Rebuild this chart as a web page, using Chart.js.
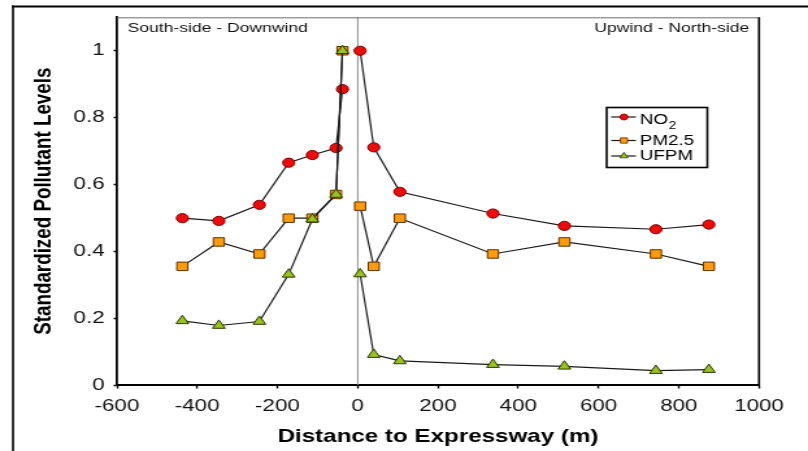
<!DOCTYPE html>
<html>
<head>
<meta charset="utf-8">
<script src="https://cdn.jsdelivr.net/npm/chart.js@4.4.1/dist/chart.umd.min.js"></script>
<style>
  html, body { margin: 0; padding: 0; background: #fff; }
</style>
</head>
<body>
<canvas id="c" width="622" height="451" style="display:block;width:808px;height:451px"></canvas>
<script>
// ---- data ----
const distances = [-437, -346, -245, -172, -113, -54, -38, 6, 40, 105, 337, 515, 743, 875];
const no2  = [0.499, 0.491, 0.539, 0.665, 0.688, 0.709, 0.885, 1.000, 0.711, 0.578, 0.513, 0.476, 0.466, 0.480];
const pm25 = [0.355, 0.428, 0.392, 0.499, 0.499, 0.570, 1.000, 0.535, 0.355, 0.499, 0.392, 0.428, 0.392, 0.355];
const ufpm = [0.192, 0.178, 0.190, 0.331, 0.496, 0.570, 1.000, 0.332, 0.091, 0.072, 0.061, 0.056, 0.043, 0.046];
const seriesNames = ['NO2', 'PM2.5', 'UFPM'];
const xTicks = [-600, -400, -200, 0, 200, 400, 600, 800, 1000];
const yTicks = [0, 0.2, 0.4, 0.6, 0.8, 1];
const sideLabels = ['South-side - Downwind', 'Upwind - North-side'];
const xTitle = 'Distance to Expressway (m)';
const yTitle = 'Standardized Pollutant Levels';

const FONT = "'Liberation Sans', Arial, Helvetica, sans-serif";
const LINE = '#1a1a1a';
const styles = [
  { fill: '#f00a0a', edge: '#7a0000', shape: 'circle', r: 4.6, lr: 3 },
  { fill: '#ff9a0a', edge: '#5a3300', shape: 'rect', r: 6.0, lr: 3.8 },
  { fill: '#99c41a', edge: '#2e3a00', shape: 'triangle', r: 5.6, lr: 3.6 }
];

function points(vals) { return distances.map((d, i) => ({ x: d, y: vals[i] })); }
// break the line where the expressway is crossed
const gapSegment = {
  borderColor: ctx => (ctx.p0.parsed.x < 0 && ctx.p1.parsed.x > 0) ? 'rgba(0,0,0,0)' : undefined
};

function ds(label, vals, st, order) {
  return {
    label, data: points(vals), showLine: true, order,
    borderColor: LINE, borderWidth: 1.2,
    pointStyle: st.shape, pointRadius: st.r, pointHoverRadius: st.r,
    pointBackgroundColor: st.fill, pointBorderColor: st.edge, pointBorderWidth: 1,
    segment: gapSegment
  };
}

const overlay = {
  id: 'overlay',
  beforeDatasetsDraw(chart) {
    const { ctx, chartArea: a, scales: { x } } = chart;
    const px = x.getPixelForValue(0);
    ctx.save();
    ctx.strokeStyle = '#8c8c8c';
    ctx.lineWidth = 1;
    ctx.beginPath(); ctx.moveTo(px, a.top); ctx.lineTo(px, a.bottom); ctx.stroke();
    ctx.restore();
  },
  afterDraw(chart) {
    const { ctx, chartArea: a, width: W, height: H } = chart;
    ctx.save();
    // outer frame (top & left)
    ctx.strokeStyle = '#000';
    ctx.lineWidth = 2;
    ctx.beginPath(); ctx.moveTo(9.2, 6.5); ctx.lineTo(W, 6.5); ctx.stroke();
    ctx.lineWidth = 1.6;
    ctx.beginPath(); ctx.moveTo(10, 5.5); ctx.lineTo(10, H); ctx.stroke();
    // plot box top & right
    ctx.strokeStyle = '#6e6e6e'; ctx.lineWidth = 1;
    ctx.beginPath(); ctx.moveTo(a.left, a.top + 0.5); ctx.lineTo(a.right, a.top + 0.5); ctx.stroke();
    ctx.strokeStyle = '#000'; ctx.lineWidth = 1.6;
    ctx.beginPath(); ctx.moveTo(a.right, a.top); ctx.lineTo(a.right, a.bottom + 1); ctx.stroke();
    // side annotations
    ctx.fillStyle = '#111';
    ctx.font = `13.5px ${FONT}`;
    ctx.textBaseline = 'middle';
    ctx.textAlign = 'left';
    ctx.fillText(sideLabels[0], a.left + 8.2, 28.5);
    ctx.textAlign = 'right';
    ctx.fillText(sideLabels[1], a.right - 7.5, 28.5);
    // legend
    const bx = 467, by = 107.5, bw = 77.5, bh = 60;
    ctx.fillStyle = '#fff';
    ctx.fillRect(bx, by, bw, bh);
    ctx.strokeStyle = '#000'; ctx.lineWidth = 1.6;
    ctx.strokeRect(bx, by, bw, bh);
    const rows = [117, 140.5, 156];
    const textRows = [119.5, 140.5, 156];
    chart.data.datasets.forEach((d, i) => {
      const st = styles[i];
      const y = rows[i];
      ctx.strokeStyle = LINE; ctx.lineWidth = 1.2;
      ctx.beginPath(); ctx.moveTo(bx + 3.5, y); ctx.lineTo(bx + 22.5, y); ctx.stroke();
      ctx.fillStyle = st.fill; ctx.strokeStyle = st.edge; ctx.lineWidth = 0.8;
      Chart.helpers.drawPoint(ctx, { pointStyle: st.shape, radius: st.lr, rotation: 0, borderWidth: 0.8 }, bx + 13.3, y);
      ctx.fillStyle = '#000';
      ctx.textAlign = 'left';
      ctx.textBaseline = 'middle';
      ctx.font = `14.5px ${FONT}`;
      const tx = bx + 25.5;
      if (d.label === 'NO2') {
        ctx.fillText('NO', tx, textRows[i]);
        const w = ctx.measureText('NO').width;
        ctx.font = `10.5px ${FONT}`;
        ctx.fillText('2', tx + w + 0.5, textRows[i] + 6.5);
      } else {
        ctx.fillText(d.label, tx, textRows[i]);
      }
    });
    ctx.restore();
  }
};

new Chart(document.getElementById('c'), {
  type: 'scatter',
  data: {
    datasets: [
      ds(seriesNames[0], no2, styles[0], 3),
      ds(seriesNames[1], pm25, styles[1], 2),
      ds(seriesNames[2], ufpm, styles[2], 1)
    ]
  },
  options: {
    responsive: false,
    animation: false,
    events: [],
    layout: { padding: { left: 10, top: 15, right: 37.7, bottom: 0 } },
    plugins: { legend: { display: false }, tooltip: { enabled: false } },
    scales: {
      x: {
        type: 'linear', min: -600, max: 1000,
        afterFit(s) { s.height = 66; },
        afterBuildTicks(s) { s.ticks = xTicks.map(v => ({ value: v })); },
        grid: { drawOnChartArea: false, drawTicks: true, tickLength: 3.5, tickColor: '#000', tickWidth: 1.4 },
        border: { display: true, color: '#000', width: 2 },
        ticks: { color: '#111', font: { family: FONT, size: 17.2 }, padding: 7, maxRotation: 0, autoSkip: false,
                 callback: v => String(v) },
        title: { display: true, text: xTitle, color: '#000', font: { family: FONT, size: 18.6, weight: 'bold' },
                 padding: { top: 0, bottom: 3 } }
      },
      y: {
        type: 'linear', min: 0, max: 1.1,
        afterFit(s) { s.width = 80; },
        afterBuildTicks(s) { s.ticks = yTicks.map(v => ({ value: v })); },
        grid: { drawOnChartArea: false, drawTicks: true, tickLength: 2.5, tickColor: '#000', tickWidth: 1.4 },
        border: { display: true, color: '#000', width: 1.8 },
        ticks: { color: '#111', font: { family: FONT, size: 17.2 }, padding: 7, autoSkip: false,
                 callback: v => String(Math.round(v * 10) / 10) },
        title: { display: true, text: yTitle, color: '#000', font: { family: FONT, size: 18.8, weight: 'bold' },
                 padding: { top: 13, bottom: 0 } }
      }
    }
  },
  plugins: [overlay]
});
</script>
</body>
</html>
